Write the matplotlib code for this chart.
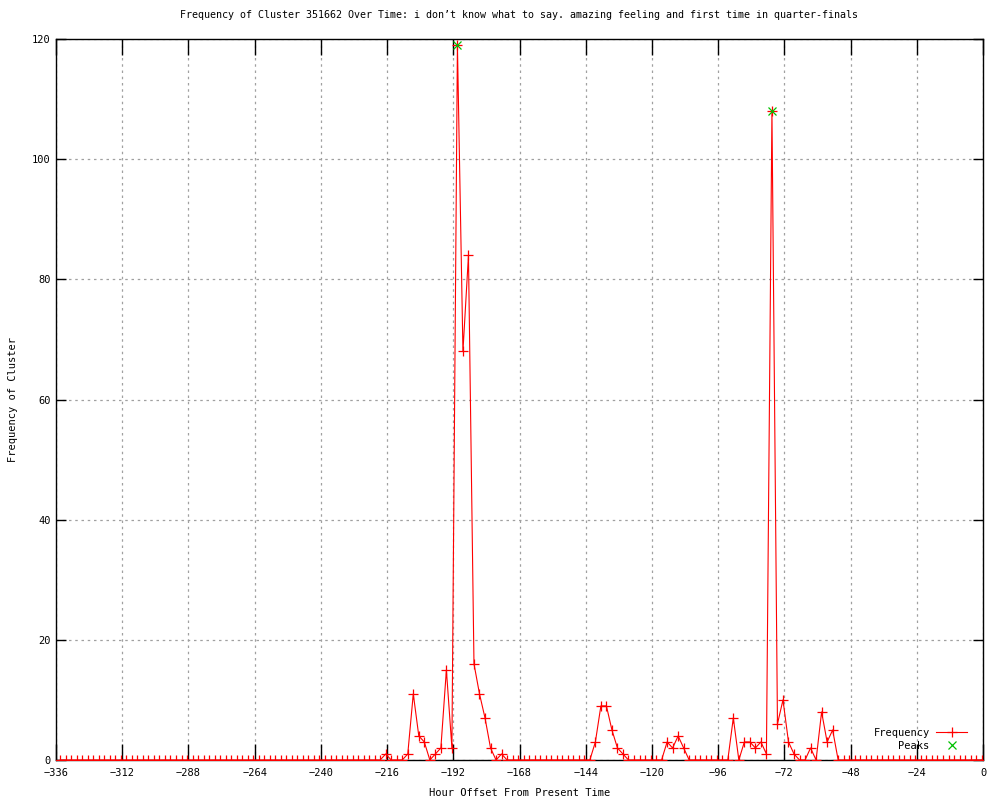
import matplotlib
matplotlib.use("Agg")
import matplotlib.pyplot as plt
import numpy as np

# Data: hour offsets every 2 hours, frequency values
hours = [h - 0.5 for h in range(-334, 1, 2)]
nonzero = {
    -216: 1,
    -208: 1, -206: 11, -204: 4, -202: 3, -200: 0, -198: 1, -196: 2, -194: 15,
    -192: 2, -190: 119, -188: 68, -186: 84, -184: 16, -182: 11, -180: 7,
    -178: 2, -176: 0, -174: 1,
    -140: 3, -138: 9, -136: 9, -134: 5, -132: 2, -130: 1,
    -114: 3, -112: 2, -110: 4, -108: 2,
    -90: 7, -88: 0, -86: 3, -84: 3, -82: 2, -80: 3, -78: 1, -76: 108,
    -74: 6, -72: 10, -70: 3, -68: 1, -66: 0, -64: 0, -62: 2, -60: 0,
    -58: 8, -56: 3, -54: 5,
}
frequency = [nonzero.get(int(h + 0.5), 0) for h in hours]

peak_hours = [-190.5, -76.5]
peak_values = [119, 108]

x_ticks = list(range(-336, 1, 24))
y_ticks = list(range(0, 121, 20))

title = "Frequency of Cluster 351662 Over Time: i don\u2019t know what to say. amazing feeling and first time in quarter-finals"

plt.rcParams['font.family'] = ['DejaVu Sans Mono', 'DejaVu Sans']
fs = 7.5

fig = plt.figure(figsize=(10, 8), dpi=100)
ax = fig.add_axes([0.056, 0.05, 0.927, 0.90125])

ax.plot(hours, frequency, color='#ff0000', linewidth=0.8, marker='+',
        markersize=7, markeredgewidth=0.9, label='Frequency', zorder=3)
ax.plot(peak_hours, peak_values, linestyle='none', color='#00c000', marker='x',
        markersize=6, markeredgewidth=0.9, label='Peaks', zorder=4)

ax.set_xlim(-336, 0)
ax.set_ylim(0, 120)
ax.set_xticks(x_ticks)
ax.set_yticks(y_ticks)
ax.tick_params(axis='x', direction='in', length=11.5, width=1, top=True,
               labelsize=fs, color='black', pad=6)
ax.tick_params(axis='y', direction='in', length=7, width=1, right=True,
               labelsize=fs, color='black', pad=4)
ax.grid(True, color='#a0a0a0', linestyle=(0, (2, 3)), linewidth=0.9)
ax.set_axisbelow(True)
for s in ax.spines.values():
    s.set_linewidth(1.0)
    s.set_color('black')

ax.set_title(title, fontsize=7.2, pad=15)
ax.set_xlabel("Hour Offset From Present Time", fontsize=fs, labelpad=7)
ax.set_ylabel("Frequency of Cluster", fontsize=fs, labelpad=10)

leg = ax.legend(loc='lower right', frameon=False, fontsize=fs,
                markerfirst=False, handlelength=3.0, borderaxespad=0.5,
                labelspacing=0.25, handletextpad=0.6,
                bbox_to_anchor=(0.993, 0.0))

fig.savefig("out.png", dpi=100)
